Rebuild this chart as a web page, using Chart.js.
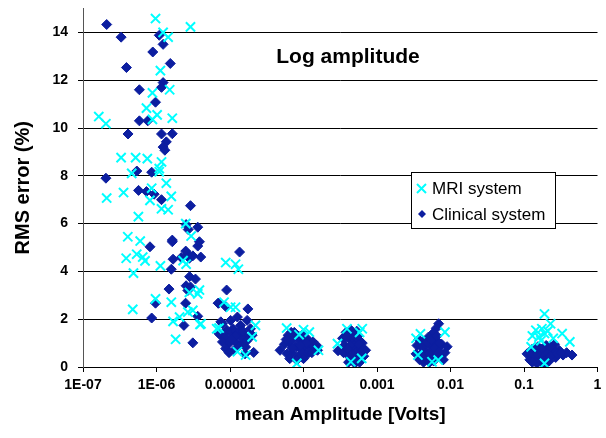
<!DOCTYPE html>
<html lang="en">
<head>
<meta charset="UTF-8">
<title>Log amplitude</title>
<script src="https://cdn.jsdelivr.net/npm/chart.js"></script>
<style>
  html, body { margin: 0; padding: 0; background: #fff; }
</style>
</head>
<body>
<canvas id="rmsChart" width="606" height="438"></canvas>
<script>
// tick values / labels of the log x axis
const xTicks = [1e-7, 1e-6, 1e-5, 1e-4, 1e-3, 1e-2, 1e-1, 1];
const xTickLabels = ['1E-07', '1E-06', '0.00001', '0.0001', '0.001', '0.01', '0.1', '1'];

// [mean amplitude (V), RMS error (%)]
const mriPoints = [
  [9.7e-7,14.58],[2.9e-6,14.23],[1.23e-6,14.0],[1.44e-6,13.8],[1.13e-6,12.4],[8.8e-7,11.47],[1.51e-6,11.6],
  [7.3e-7,10.83],[1.02e-6,10.55],[8.8e-7,10.36],[1.64e-7,10.48],[2.05e-7,10.18],[1.64e-6,10.41],
  [3.3e-7,8.76],[5.2e-7,8.76],[7.5e-7,8.72],[1.17e-6,8.58],[1.09e-6,8.3],[4.6e-7,8.1],[1.09e-6,8.17],
  [1.36e-6,7.69],[3.56e-7,7.3],[2.1e-7,7.07],[8.6e-7,7.48],[8.15e-7,6.97],[1.59e-6,7.14],[1.17e-6,6.62],
  [1.44e-6,6.58],[5.67e-7,6.29],[4.07e-7,5.45],[6.0e-7,5.27],[2.96e-6,5.48],[2.5e-6,6.0],
  [3.87e-7,4.55],[5.38e-7,4.72],[6.98e-7,4.44],[6.5e-7,4.6],[1.13e-6,4.23],[4.86e-7,3.93],[2.53e-6,4.3],
  [2.3e-6,4.45],[9.7e-7,2.85],[1.59e-6,2.71],[4.75e-7,2.41],[2.8e-6,3.12],[3.64e-6,3.06],[2.67e-6,2.3],
  [3.12e-6,2.37],[2.06e-6,2.09],[1.68e-6,1.91],[3.91e-6,1.78],[1.82e-6,1.16],[3.84e-6,3.22],[4.03e-6,1.81],
  [8.75e-6,4.37],[1.19e-5,4.3],[1.3e-5,4.09],[8.3e-6,2.71],[1.02e-5,2.5],[1.19e-5,2.5],[6.6e-6,1.6],
  [7.1e-6,1.63],[2.22e-5,1.74],[2.0e-5,1.26],[1.26e-5,0.64],[1.63e-5,0.5],
  [5.9e-5,1.63],[1.0e-4,1.56],[1.2e-4,1.46],[8.1e-5,0.15],[1.6e-4,0.7],[8.7e-5,1.35],
  [3.9e-4,1.6],[6.3e-4,1.6],[2.9e-4,0.98],[4.4e-4,0.22],[6.2e-4,0.36],[5.8e-4,1.45],
  [3.9e-3,1.39],[8.4e-3,1.46],[5.6e-3,0.22],[6.8e-3,0.29],[3.6e-3,0.5],[3.4e-3,1.2],
  [0.19,2.22],[0.23,1.81],[0.145,1.54],[0.19,1.4],[0.16,1.25],[0.175,1.6],[0.21,1.5],[0.33,1.4],
  [0.42,1.05],[0.125,0.84],[0.19,0.15],[0.17,1.1],[0.13,1.3],[0.25,1.2]
];

const clinicalPoints = [
  [2.1e-7,14.33],[3.3e-7,13.8],[1.09e-6,13.88],[1.23e-6,13.5],[8.9e-7,13.18],[3.9e-7,12.53],[1.54e-6,12.7],
  [1.23e-6,11.9],[1.17e-6,11.7],[5.85e-7,11.6],[9.7e-7,11.08],[5.85e-7,10.3],[7.6e-7,10.3],
  [4.1e-7,9.75],[1.17e-6,9.75],[1.64e-6,9.76],[1.36e-6,9.42],[1.23e-6,9.2],[1.3e-6,9.07],[5.4e-7,8.2],
  [8.6e-7,8.15],[2.05e-7,7.9],[5.7e-7,7.39],[7.3e-7,7.34],[9.3e-7,7.23],[1.17e-6,7.0],[2.9e-6,6.75],
  [2.53e-6,5.96],[2.7e-6,5.75],[3.64e-6,5.85],[1.64e-6,5.31],[8.15e-7,5.03],
  [1.64e-6,5.24],[3.64e-6,5.06],[3.84e-6,5.24],[4.0e-6,4.6],[1.68e-6,4.51],[2.17e-6,4.58],[2.67e-6,4.72],
  [3.12e-6,4.65],[2.8e-6,4.55],[2.5e-6,4.85],[1.59e-6,4.09],[2.82e-6,3.78],[3.39e-6,3.68],[1.48e-6,3.26],
  [2.53e-6,3.4],[2.67e-6,3.2],[2.9e-6,3.35],[9.7e-7,2.67],[2.49e-6,2.67],[8.6e-7,2.05],[3.64e-6,2.12],
  [2.36e-6,1.74],[3.12e-6,1.01],[6.98e-6,2.67],[7.5e-6,1.89],[7.5e-6,1.33],
  [1.35e-5,4.81],[9.0e-6,3.22],[6.9e-6,2.67],[8.75e-6,2.53],[1.75e-5,2.43],[7.9e-6,1.81],[1.02e-5,1.95],
  [1.26e-5,2.09],[1.39e-5,1.74],[1.71e-5,1.95],[1.9e-5,1.6],[7.1e-6,1.39],[8.75e-6,1.26],[1.08e-5,1.39],
  [1.33e-5,1.46],[1.63e-5,1.26],[2.0e-5,1.33],[7.9e-6,1.05],[9.7e-6,0.98],[1.19e-5,1.05],[1.47e-5,0.98],
  [8.75e-6,0.77],[1.14e-5,0.7],[9.7e-6,0.6],[2.1e-5,0.61],[1.63e-5,0.84],[1.1e-5,1.6],[1.45e-5,1.2],
  [1.2e-5,1.3],[1.5e-5,1.5],[1.05e-5,1.15],[1.3e-5,0.85],[1.7e-5,1.1],[9e-6,1.55],[1.6e-5,0.55],
  [4.8e-5,0.7],[6.2e-5,1.33],[6.5e-5,1.0],[7.0e-5,0.6],[7.5e-5,1.2],[8.0e-5,0.85],[8.5e-5,0.45],
  [9.0e-5,1.1],[9.5e-5,0.7],[9.9e-5,1.39],[1.05e-4,0.9],[1.1e-4,0.5],[1.15e-4,1.15],[1.25e-4,0.8],
  [1.35e-4,1.05],[1.5e-4,0.91],[1.55e-4,0.7],[8.1e-5,0.29],[6e-5,0.55],[5.5e-5,0.95],[1.2e-4,0.65],[7.5e-5,1.45],
  [6.8e-5,1.45],[8.5e-5,1.3],[1.0e-4,1.2],[1.1e-4,1.0],[9e-5,0.9],[7e-5,0.8],[1.3e-4,0.6],[1.0e-4,0.35],
  [6.5e-5,0.35],[1.4e-4,0.85],[5.8e-5,1.15],
  [2.95e-4,0.68],[3.4e-4,1.2],[3.6e-4,0.9],[3.8e-4,1.45],[4.0e-4,0.5],[4.4e-4,1.55],[4.5e-4,1.1],
  [4.6e-4,0.75],[4.8e-4,0.3],[5.0e-4,1.3],[5.2e-4,0.95],[5.4e-4,0.55],[5.6e-4,1.15],[5.8e-4,0.2],
  [6.0e-4,0.75],[6.3e-4,1.0],[6.6e-4,0.45],[4.1e-4,0.2],[5.3e-4,1.5],[4.2e-4,1.3],[3.5e-4,0.6],
  [7.0e-4,0.7],[5.0e-4,0.15],
  [3.7e-4,1.2],[4.7e-4,1.35],[4.9e-4,0.9],[5.5e-4,1.3],[6.0e-4,0.5],[5.1e-4,0.6],[4.3e-4,0.9],
  [4.0e-4,0.75],[5.7e-4,0.95],[6.5e-4,0.75],[4.5e-4,0.4],[5.4e-4,0.3],
  [6.9e-3,1.81],[6.4e-3,1.62],[5.8e-3,1.42],[5.0e-3,1.25],[3.5e-3,0.9],[3.4e-3,0.55],[3.8e-3,0.3],
  [4.2e-3,1.05],[4.5e-3,0.7],[4.8e-3,0.4],[5.3e-3,0.9],[5.6e-3,0.6],[5.9e-3,0.25],[6.2e-3,1.05],
  [6.6e-3,0.75],[7.2e-3,0.45],[7.6e-3,0.95],[8.4e-3,0.6],[9.0e-3,0.85],[8.0e-3,0.3],[4.3e-3,0.2],[3.7e-3,1.15],
  [4.0e-3,0.55],[4.6e-3,0.95],[5.1e-3,0.55],[5.5e-3,1.15],[6.0e-3,0.8],[6.5e-3,1.3],[7.0e-3,0.65],
  [5.2e-3,0.2],[4.0e-3,0.85],[7.0e-3,1.0],[6.2e-3,0.45],
  [0.11,0.55],[0.12,0.3],[0.13,0.75],[0.14,0.45],[0.15,0.15],[0.155,0.85],[0.16,0.55],[0.17,0.3],
  [0.18,0.7],[0.19,0.08],[0.2,0.45],[0.21,0.85],[0.22,0.25],[0.24,0.6],[0.26,0.95],[0.27,0.4],
  [0.3,0.7],[0.34,0.5],[0.38,0.6],[0.45,0.5],[0.2,0.9],[0.13,0.2],
  [0.12,0.6],[0.14,0.7],[0.16,0.35],[0.17,0.75],[0.18,0.45],[0.19,0.25],[0.21,0.6],[0.23,0.45],
  [0.25,0.75],[0.28,0.55],[0.32,0.6],[0.15,0.55],[0.23,0.85],[0.2,0.2]
];

const seriesNames = ['MRI system', 'Clinical system'];
const CYAN = '#00ffff';
const NAVY = '#0c1ea0';
const FONT = '"Liberation Sans", Arial, sans-serif';

const toXY = pts => pts.map(p => ({ x: p[0], y: p[1] }));

// title inside the plot + boxed legend on the right
const overlay = {
  id: 'overlay',
  afterDraw(chart) {
    const ctx = chart.ctx;
    ctx.save();
    ctx.fillStyle = '#000';
    ctx.font = 'bold 21px ' + FONT;
    ctx.textAlign = 'center';
    ctx.textBaseline = 'middle';
    ctx.fillText('Log amplitude', 348, 57);

    const bx = 411, by = 172, bw = 144, bh = 56;
    ctx.fillStyle = '#fff';
    ctx.fillRect(bx, by, bw, bh);
    ctx.strokeStyle = '#000';
    ctx.lineWidth = 1;
    ctx.strokeRect(bx + 0.5, by + 0.5, bw, bh);

    // cross marker
    ctx.strokeStyle = CYAN;
    ctx.lineWidth = 2;
    ctx.beginPath();
    ctx.moveTo(417, 184); ctx.lineTo(426, 193);
    ctx.moveTo(426, 184); ctx.lineTo(417, 193);
    ctx.stroke();
    // diamond marker
    ctx.fillStyle = NAVY;
    ctx.beginPath();
    ctx.moveTo(422, 210); ctx.lineTo(426, 214); ctx.lineTo(422, 218); ctx.lineTo(418, 214);
    ctx.closePath();
    ctx.fill();

    ctx.fillStyle = '#000';
    ctx.font = '17px ' + FONT;
    ctx.textAlign = 'left';
    ctx.fillText(seriesNames[0], 432, 189);
    ctx.fillText(seriesNames[1], 432, 215);
    ctx.restore();
  }
};

new Chart(document.getElementById('rmsChart'), {
  type: 'scatter',
  data: {
    datasets: [
      {
        label: seriesNames[0],
        data: toXY(mriPoints),
        pointStyle: 'crossRot',
        pointRadius: 6.5,
        pointBorderWidth: 2,
        borderColor: CYAN,
        backgroundColor: CYAN
      },
      {
        label: seriesNames[1],
        data: toXY(clinicalPoints),
        pointStyle: 'rectRot',
        pointRadius: 5,
        pointBorderWidth: 1,
        borderColor: NAVY,
        backgroundColor: NAVY
      }
    ]
  },
  options: {
    responsive: false,
    devicePixelRatio: 1,
    animation: false,
    events: [],
    layout: { padding: { top: 7, right: 2, left: 0, bottom: 0 } },
    plugins: {
      legend: { display: false },
      tooltip: { enabled: false }
    },
    scales: {
      x: {
        type: 'logarithmic',
        min: 1e-7,
        max: 1,
        afterBuildTicks: scale => { scale.ticks = xTicks.map(v => ({ value: v, major: true })); },
        afterFit: scale => { scale.height = 71; scale.paddingLeft = 0; scale.paddingRight = 0; },
        ticks: {
          autoSkip: false,
          maxRotation: 0,
          padding: 5,
          color: '#000',
          font: { family: FONT, size: 14, weight: 'bold' },
          callback: (v, i) => xTickLabels[i]
        },
        grid: { drawOnChartArea: false, color: '#000', tickLength: 5 },
        border: { color: '#000' },
        title: {
          display: true,
          text: 'mean Amplitude [Volts]',
          color: '#000',
          font: { family: FONT, size: 19, weight: 'bold' },
          padding: { top: 0, bottom: 12 }
        }
      },
      y: {
        min: 0,
        max: 15,
        afterFit: scale => { scale.width = 83; scale.paddingTop = 0; scale.paddingBottom = 0; },
        ticks: {
          stepSize: 2,
          includeBounds: false,
          padding: 10,
          color: '#000',
          font: { family: FONT, size: 14, weight: 'bold' }
        },
        grid: { color: '#000', tickLength: 5 },
        border: { color: '#555' },
        title: {
          display: true,
          text: 'RMS error (%)',
          color: '#000',
          font: { family: FONT, size: 20, weight: 'bold' },
          padding: { top: 11, bottom: 0 }
        }
      }
    }
  },
  plugins: [overlay]
});
</script>
</body>
</html>
